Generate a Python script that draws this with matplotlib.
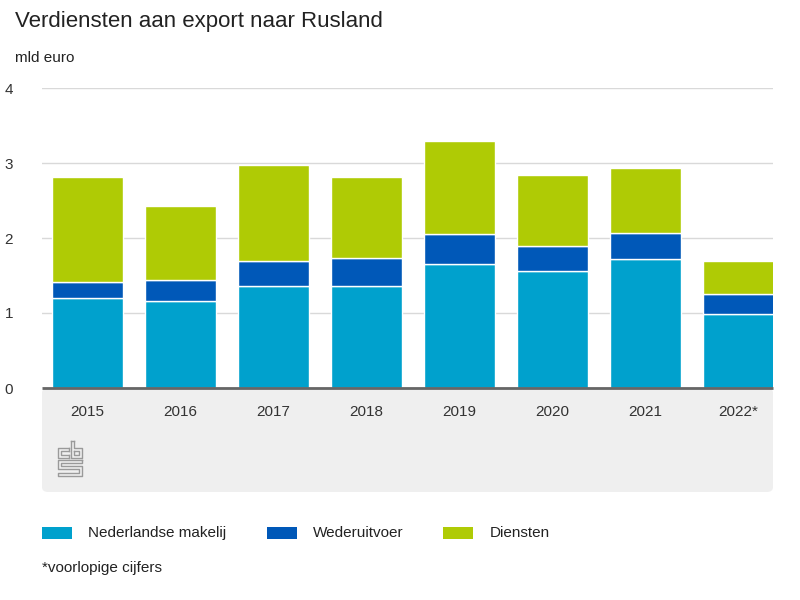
import matplotlib
matplotlib.use("Agg")
import matplotlib.pyplot as plt
from matplotlib.patches import FancyBboxPatch, Rectangle
import numpy as np

plt.rcParams['font.family'] = ['Liberation Sans', 'DejaVu Sans']

years = ["2015", "2016", "2017", "2018", "2019", "2020", "2021", "2022*"]
nederlandse = [1.20, 1.16, 1.36, 1.36, 1.65, 1.56, 1.72, 0.99]
wederuitvoer = [0.22, 0.28, 0.34, 0.37, 0.40, 0.34, 0.35, 0.26]
diensten = [1.40, 0.99, 1.27, 1.09, 1.25, 0.94, 0.86, 0.44]
series_names = ["Nederlandse makelij", "Wederuitvoer", "Diensten"]
colors = ["#00A1CD", "#0058B8", "#AFCB05"]

W, H = 800, 600
fig = plt.figure(figsize=(8, 6), dpi=100)

def fx(px):
    return px / W

def fy(py):
    return 1 - py / H

# grey panel below axis
panel = FancyBboxPatch((fx(42), fy(492)), fx(773) - fx(42), fy(388) - fy(492),
                       boxstyle="round,pad=0,rounding_size=0.008",
                       transform=fig.transFigure, facecolor="#EFEFEF",
                       edgecolor="none", zorder=-5)
fig.patches.append(panel)

ax = fig.add_axes([fx(42), fy(388), fx(773) - fx(42), fy(88) - fy(388)])
ax.set_zorder(2)
ax.set_facecolor("none")
x = np.arange(len(years))
bw = 0.765
ax.bar(x, nederlandse, bw, color=colors[0], edgecolor="white", linewidth=1, zorder=3)
bottom2 = np.array(nederlandse)
ax.bar(x, wederuitvoer, bw, bottom=bottom2, color=colors[1], edgecolor="white", linewidth=1, zorder=3)
bottom3 = bottom2 + np.array(wederuitvoer)
ax.bar(x, diensten, bw, bottom=bottom3, color=colors[2], edgecolor="white", linewidth=1, zorder=3)

ax.set_ylim(0, 4)
ax.set_xlim(-0.49, 7.375)
ax.set_yticks([0, 1, 2, 3, 4])
ax.grid(axis="y", color="#D9D9D9", linewidth=1, zorder=0)
ax.set_axisbelow(True)
for s in ["top", "right", "left"]:
    ax.spines[s].set_visible(False)
ax.spines["bottom"].set_color("#666666")
ax.spines["bottom"].set_linewidth(2)
ax.spines["bottom"].set_capstyle("butt")
ax.spines["bottom"].set_zorder(4)
ax.tick_params(axis="y", length=0, labelsize=11, labelcolor="#333333")
for lab in ax.get_yticklabels():
    lab.set_horizontalalignment("left")
ax.yaxis.set_tick_params(pad=27)
ax.set_xticks(x)
ax.set_xticklabels(years)
ax.tick_params(axis="x", length=0, labelsize=11, labelcolor="#333333", pad=12)

fig.text(fx(15), fy(22), "Verdiensten aan export naar Rusland", fontsize=16,
         color="#222222", va="center", ha="left")
fig.text(fx(15), fy(58), "mld euro", fontsize=11, color="#222222", va="center", ha="left")

# legend
leg_items = [(42, 88), (267, 313), (443, 490)]
for (px, tx), name, c in zip(leg_items, series_names, colors):
    fig.patches.append(Rectangle((fx(px), fy(539)), fx(30), fy(527) - fy(539),
                                 transform=fig.transFigure, facecolor=c, edgecolor="none"))
    fig.text(fx(tx), fy(533), name, fontsize=11, color="#222222", va="center", ha="left")

fig.text(fx(42), fy(568), "*voorlopige cijfers", fontsize=11, color="#222222",
         va="center", ha="left")

# simple CBS logo outline (pixel coordinates, y downward)
lax = fig.add_axes([fx(55), fy(478), fx(85) - fx(55), fy(438) - fy(478)])
lax.set_zorder(3)
lax.set_xlim(55, 85)
lax.set_ylim(478, 438)
lax.axis("off")
lc = "#9A9A9A"
lw = 1.0
# c
lax.plot([69, 58, 58, 69], [448, 448, 458, 458], color=lc, lw=lw)
lax.plot([69, 61, 61, 69], [451, 451, 455, 455], color=lc, lw=lw)
lax.plot([69, 69], [448, 451], color=lc, lw=lw)
lax.plot([69, 69], [455, 458], color=lc, lw=lw)
# b
lax.plot([71, 71, 82, 82, 74, 74], [441, 458, 458, 448, 448, 441], color=lc, lw=lw)
lax.plot([71, 74], [441, 441], color=lc, lw=lw)
lax.plot([74, 79, 79, 74, 74], [451, 451, 455, 455, 451], color=lc, lw=lw)
# s
lax.plot([82, 58, 58, 79, 79, 58, 58, 82, 82, 61, 61, 82, 82], 
         [460, 460, 469, 469, 473, 473, 476, 476, 466, 466, 463, 463, 460], color=lc, lw=lw)

fig.savefig("out.png", dpi=100, facecolor="white")
